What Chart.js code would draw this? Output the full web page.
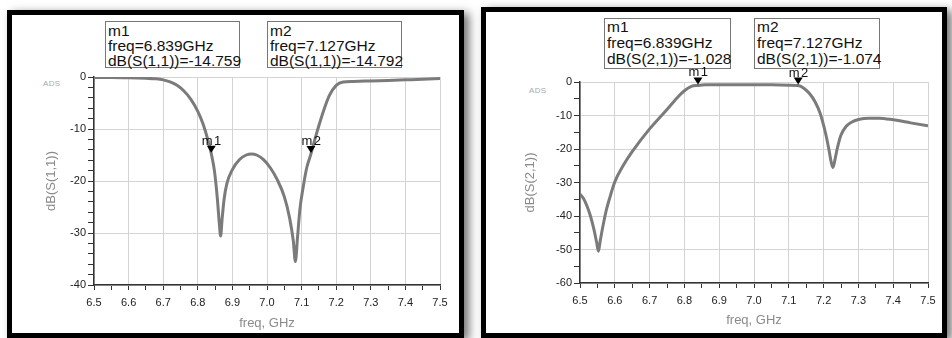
<!DOCTYPE html>
<html>
<head>
<meta charset="utf-8">
<script src="https://cdn.jsdelivr.net/npm/chart.js@4.4.1/dist/chart.umd.min.js"></script>
<style>
  html, body { margin:0; padding:0; background:#fff; width:952px; height:338px; overflow:hidden; }
  body { position:relative; font-family:"Liberation Sans", Arial, sans-serif; }
  .frame { position:absolute; border:5px solid #000; background:#fff; box-sizing:border-box;
           box-shadow: 5px 3px 9px rgba(0,0,0,0.55); }
  canvas { position:absolute; left:0; top:0; }
  .mbox { position:absolute; border:1px solid #777; box-sizing:border-box; font-size:15.5px;
          line-height:15px; color:#111; padding:1px 0 0 2px; white-space:nowrap; background:#fff; }
  .ads { position:absolute; font-size:8px; color:#aaa; letter-spacing:0.3px; }
</style>
</head>
<body>
<div class="frame" style="left:7px; top:10px; width:457px; height:328px;"></div>
<div class="frame" style="left:481px; top:7px; width:466px; height:331px;"></div>

<div class="ads" style="left:43px; top:79px;">ADS</div>
<div class="ads" style="left:529px; top:86px;">ADS</div>

<div id="boxes"></div>

<canvas id="c1" width="952" height="338"></canvas>
<canvas id="c2" width="952" height="338"></canvas>

<script>
// ---------------- DATA ----------------
const s11Freq = [6.50, 6.55, 6.60, 6.65, 6.68, 6.70, 6.72, 6.74, 6.76, 6.78, 6.80, 6.815, 6.83, 6.839,
                 6.848, 6.856, 6.862, 6.866, 6.870, 6.876, 6.884, 6.90, 6.92, 6.94, 6.955, 6.97, 6.99,
                 7.01, 7.03, 7.05, 7.065, 7.076, 7.082, 7.088, 7.095, 7.105, 7.115, 7.127, 7.14, 7.16,
                 7.18, 7.20, 7.22, 7.25, 7.30, 7.35, 7.40, 7.45, 7.50];
const s11dB   = [-0.1, -0.1, -0.15, -0.25, -0.35, -0.55, -0.95, -1.6, -2.7, -4.3, -6.6, -9.0, -12.3, -14.759,
                 -18.0, -23.0, -28.0, -30.6, -27.5, -23.5, -20.5, -17.8, -15.9, -15.0, -14.8, -15.0, -15.9,
                 -17.5, -19.8, -23.0, -27.0, -31.5, -35.5, -31.0, -25.5, -21.0, -17.4, -14.792, -11.6, -7.2,
                 -3.6, -1.6, -0.95, -0.85, -0.75, -0.65, -0.55, -0.45, -0.3];

const s21Freq = [6.50, 6.51, 6.52, 6.53, 6.54, 6.548, 6.553, 6.558, 6.565, 6.575, 6.59, 6.60, 6.625, 6.65,
                 6.70, 6.75, 6.78, 6.80, 6.82, 6.839, 6.86, 6.90, 6.95, 7.00, 7.05, 7.10, 7.127, 7.145,
                 7.16, 7.175, 7.19, 7.205, 7.215, 7.222, 7.227, 7.233, 7.24, 7.25, 7.265, 7.28, 7.30,
                 7.33, 7.36, 7.40, 7.45, 7.50];
const s21dB   = [-33.5, -34.8, -37.0, -40.0, -44.0, -48.0, -50.5, -47.5, -43.5, -38.5, -33.0, -29.8, -24.8, -20.8,
                 -14.0, -8.2, -4.6, -2.6, -1.3, -1.028, -0.85, -0.8, -0.8, -0.8, -0.85, -0.95, -1.074, -2.0,
                 -3.5, -5.8, -9.3, -15.0, -20.0, -24.0, -25.5, -23.0, -19.5, -15.8, -13.2, -12.0, -11.2,
                 -10.8, -10.8, -11.3, -12.2, -13.1];

const markerNames = ["m1", "m2"];
const markerFreq  = [6.839, 7.127];
const markerS11   = [-14.759, -14.792];
const markerS21   = [-1.028, -1.074];

const xTickLabels = ["6.5","6.6","6.7","6.8","6.9","7.0","7.1","7.2","7.3","7.4","7.5"];
const s11YTicks = [0, -10, -20, -30, -40];
const s21YTicks = [0, -10, -20, -30, -40, -50, -60];

// ---------------- MARKER BOXES (text) ----------------
const boxSpecs = [
  {left:105, top:21, w:135, h:47, idx:0, name:"dB(S(1,1))", vals:markerS11},
  {left:267, top:21, w:135, h:47, idx:1, name:"dB(S(1,1))", vals:markerS11},
  {left:604, top:18, w:127, h:51, idx:0, name:"dB(S(2,1))", vals:markerS21, lh:16},
  {left:754, top:18, w:126, h:51, idx:1, name:"dB(S(2,1))", vals:markerS21, lh:16}
];
const boxesEl = document.getElementById('boxes');
boxSpecs.forEach(b => {
  const d = document.createElement('div');
  d.className = 'mbox';
  d.style.left = b.left + 'px'; d.style.top = b.top + 'px';
  d.style.width = b.w + 'px'; d.style.height = b.h + 'px';
  if (b.lh) { d.style.lineHeight = b.lh + 'px'; d.style.paddingTop = '0px'; }
  d.innerHTML = markerNames[b.idx] + '<br>freq=' + markerFreq[b.idx].toFixed(3) + 'GHz<br>' +
                b.name + '=' + b.vals[b.idx].toFixed(3);
  boxesEl.appendChild(d);
});

// ---------------- CHARTS ----------------
const FONT = '"Liberation Sans", Arial, sans-serif';

const markerPlugin = {
  id: 'adsMarkers',
  afterDatasetsDraw(chart, args, opts) {
    const ctx = chart.ctx, xs = chart.scales.x, ys = chart.scales.y;
    ctx.save();
    opts.vals.forEach((v, i) => {
      const px = xs.getPixelForValue(markerFreq[i]);
      const py = ys.getPixelForValue(v);
      ctx.fillStyle = '#000';
      ctx.beginPath();
      ctx.moveTo(px, py - 1);
      ctx.lineTo(px - 4.5, py - 8);
      ctx.lineTo(px + 4.5, py - 8);
      ctx.closePath();
      ctx.fill();
      ctx.font = '13px ' + FONT;
      if ('letterSpacing' in ctx) ctx.letterSpacing = '1.5px';
      ctx.fillStyle = '#111';
      ctx.textAlign = 'center';
      ctx.textBaseline = 'alphabetic';
      ctx.fillText(markerNames[i], px + 1, py - 9);
    });
    ctx.restore();
  }
};

function makeChart(id, freq, vals, mvals, cfg) {
  const pts = freq.map((f, i) => ({x: f, y: vals[i]}));
  return new Chart(document.getElementById(id), {
    type: 'line',
    data: { datasets: [{
      data: pts, borderColor: '#7b7b7b', borderWidth: 3, pointRadius: 0,
      cubicInterpolationMode: 'monotone', fill: false
    }]},
    plugins: [markerPlugin],
    options: {
      responsive: false, animation: false,
      layout: { padding: cfg.pad },
      plugins: { legend: {display:false}, tooltip: {enabled:false}, adsMarkers: {vals: mvals} },
      scales: {
        x: {
          type: 'linear', min: 6.5, max: 7.5,
          afterFit: s => { s.height = 50; },
          afterBuildTicks: s => {
            const t = [];
            for (let k = 0; k <= 20; k++) t.push({value: 6.5 + k * 0.05});
            s.ticks = t;
          },
          ticks: {
            autoSkip: false, maxRotation: 0, padding: 6, color: '#222',
            font: {family: FONT, size: 11},
            callback: (v) => {
              const k = Math.round((v - 6.5) * 20);
              return k % 2 === 0 ? xTickLabels[k / 2] : '';
            }
          },
          grid: {
            color: c => (c.tick && Math.round((c.tick.value - 6.5) * 20) % 2 === 0) ? '#d4d4d4' : 'rgba(0,0,0,0)',
            tickColor: '#333', tickLength: 5, lineWidth: 1
          },
          border: { display: true, color: '#333', width: 1.5 },
          title: { display: true, text: 'freq, GHz', color: '#8a8a8a',
                   font: {family: FONT, size: 13}, padding: {top: 0, bottom: cfg.xTitlePad} }
        },
        y: {
          type: 'linear', min: cfg.yMin, max: 0,
          afterFit: s => { s.width = 60; },
          afterBuildTicks: s => {
            const t = [];
            for (let v = 0; v >= cfg.yMin - 0.001; v -= cfg.minor) t.push({value: v});
            s.ticks = t;
          },
          ticks: {
            autoSkip: false, padding: 2, color: '#222',
            font: {family: FONT, size: 11},
            callback: (v) => {
              const r = Math.round(v);
              return cfg.yTicks.includes(r) ? String(r) : '';
            }
          },
          grid: {
            color: c => (c.tick && cfg.yTicks.includes(Math.round(c.tick.value))) ? '#d4d4d4' : 'rgba(0,0,0,0)',
            tickColor: '#333', tickLength: 6, lineWidth: 1
          },
          border: { display: true, color: '#333', width: 1.5 },
          title: { display: true, text: cfg.yTitle, color: '#8a8a8a',
                   font: {family: FONT, size: 13}, padding: {top: cfg.yTitlePad, bottom: 0} }
        }
      }
    }
  });
}

makeChart('c1', s11Freq, s11dB, markerS11, {
  pad: {left: 34, right: 952 - 440, top: 77, bottom: 3},
  yMin: -40, minor: 2, yTicks: s11YTicks, yTitle: 'dB(S(1,1))', yTitlePad: 10, xTitlePad: 4
});
makeChart('c2', s21Freq, s21dB, markerS21, {
  pad: {left: 520, right: 952 - 928, top: 82, bottom: 5},
  yMin: -60, minor: 5, yTicks: s21YTicks, yTitle: 'dB(S(2,1))', yTitlePad: 3, xTitlePad: 5
});
</script>
</body>
</html>
